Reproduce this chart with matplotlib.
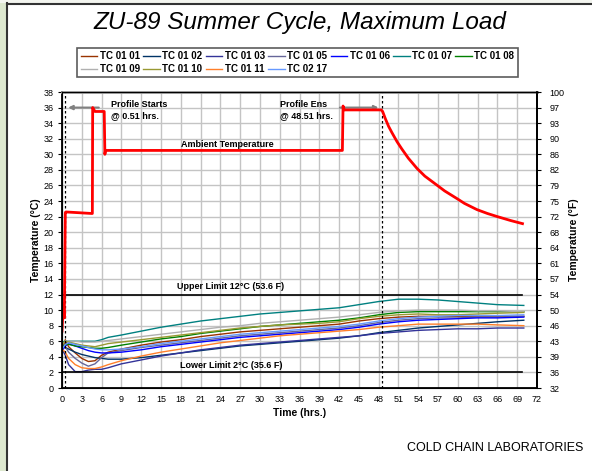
import numpy as np
import matplotlib
matplotlib.use('Agg')
import matplotlib.pyplot as plt
from matplotlib.patches import Rectangle
from matplotlib.lines import Line2D

plt.rcParams['font.family'] = ['Liberation Sans', 'DejaVu Sans']

# Probe readings (deg C) at these hours
hours = [0, 0.5, 1, 2, 3, 4, 5, 6, 7, 9, 12, 15, 18, 21, 24, 27, 30, 33,
         36, 39, 42, 45, 48, 51, 54, 57, 60, 63, 66, 70]

tc_01_01 = [4.8, 6.2, 5.3, 4.5, 3.8, 3.4, 3.5, 4.2, 4.6, 5.0, 5.5, 5.9, 6.2, 6.6, 6.9, 7.2, 7.4, 7.6,
            7.8, 8.0, 8.2, 8.6, 8.9, 9.1, 9.2, 9.2, 9.2, 9.2, 9.2, 9.2]
tc_01_02 = [5.3, 5.2, 5.0, 4.6, 4.3, 4.1, 3.9, 3.8, 3.7, 3.7, 3.9, 4.2, 4.5, 4.8, 5.1, 5.4, 5.6, 5.8,
            6.0, 6.2, 6.4, 6.7, 7.1, 7.4, 7.7, 7.9, 8.1, 8.3, 8.5, 8.7]
tc_01_03 = [5.0, 4.2, 3.0, 2.1, 2.1, 2.3, 2.4, 2.4, 2.6, 3.1, 3.6, 4.1, 4.5, 4.9, 5.2, 5.5, 5.7, 5.9,
            6.1, 6.3, 6.5, 6.7, 7.0, 7.2, 7.4, 7.5, 7.6, 7.6, 7.7, 7.7]
tc_01_05 = [5.5, 5.3, 4.6, 3.8, 3.2, 2.8, 3.1, 3.9, 4.5, 4.8, 5.2, 5.5, 5.8, 6.1, 6.4, 6.7, 6.9, 7.1,
            7.3, 7.5, 7.7, 8.0, 8.4, 8.7, 8.9, 9.0, 9.0, 9.1, 9.1, 9.2]
tc_01_06 = [4.7, 5.4, 5.7, 5.4, 5.1, 4.8, 4.6, 4.5, 4.5, 4.6, 4.9, 5.3, 5.6, 5.9, 6.2, 6.5, 6.7, 6.9,
            7.1, 7.3, 7.5, 7.8, 8.2, 8.5, 8.7, 8.8, 8.9, 9.0, 9.0, 9.1]
tc_01_07 = [5.9, 6.0, 6.0, 6.0, 6.0, 6.0, 6.0, 6.2, 6.5, 6.8, 7.3, 7.8, 8.2, 8.6, 8.9, 9.2, 9.5, 9.7,
            9.9, 10.1, 10.3, 10.7, 11.1, 11.4, 11.4, 11.3, 11.1, 10.9, 10.7, 10.6]
tc_01_08 = [5.3, 5.6, 5.6, 5.4, 5.3, 5.2, 5.1, 5.1, 5.2, 5.5, 5.9, 6.3, 6.6, 7.0, 7.3, 7.6, 7.9, 8.1,
            8.3, 8.5, 8.7, 9.0, 9.4, 9.7, 9.8, 9.8, 9.8, 9.8, 9.8, 9.8]
tc_01_09 = [5.6, 6.0, 6.0, 6.0, 5.9, 5.9, 5.9, 6.0, 6.1, 6.3, 6.6, 6.9, 7.2, 7.5, 7.8, 8.0, 8.3, 8.5,
            8.7, 8.9, 9.1, 9.4, 9.7, 9.9, 10.0, 10.0, 10.0, 9.9, 9.9, 9.8]
tc_01_10 = [5.6, 6.0, 5.9, 5.7, 5.5, 5.4, 5.3, 5.5, 5.7, 5.9, 6.2, 6.5, 6.8, 7.1, 7.4, 7.7, 7.9, 8.1,
            8.2, 8.3, 8.5, 8.9, 9.2, 9.4, 9.5, 9.4, 9.4, 9.5, 9.6, 9.7]
tc_01_11 = [5.0, 4.6, 3.8, 3.0, 2.6, 2.5, 2.5, 2.7, 3.0, 3.5, 4.1, 4.6, 5.0, 5.4, 5.8, 6.1, 6.4, 6.7,
            6.9, 7.1, 7.3, 7.5, 7.8, 8.0, 8.2, 8.2, 8.2, 8.2, 8.1, 8.0]
tc_02_17 = [5.0, 5.6, 5.8, 5.6, 5.4, 5.2, 5.0, 4.9, 4.9, 5.0, 5.3, 5.7, 6.0, 6.3, 6.6, 6.9, 7.1, 7.3,
            7.5, 7.7, 7.9, 8.2, 8.6, 8.9, 9.1, 9.2, 9.3, 9.3, 9.3, 9.4]

# Ambient temperature profile
amb_hours = [0, 0.2, 0.35, 0.5, 0.6, 4.6, 4.65, 5.0, 6.4, 6.5, 6.6, 7, 42.5, 42.6, 42.8,
             48.4, 48.6, 49.0, 49.5, 50.0, 50.8, 51.5, 52.5, 53.8, 55.0, 56.9, 58.0,
             59.9, 61.0, 62.9, 64.5, 66.0, 68.0, 69.8]
amb_temp = [7.3, 10.8, 9.0, 22.5, 22.6, 22.4, 36.0, 35.5, 35.5, 30.0, 30.5, 30.5, 30.5, 36.2, 35.7,
            35.7, 35.5, 34.6, 33.6, 32.8, 31.6, 30.7, 29.5, 28.2, 27.2, 26.0, 25.3,
            24.3, 23.7, 22.9, 22.4, 22.0, 21.5, 21.1]

series = [
    ('TC 01 01', tc_01_01, '#993300'),
    ('TC 01 02', tc_01_02, '#003366'),
    ('TC 01 03', tc_01_03, '#333399'),
    ('TC 01 05', tc_01_05, '#666699'),
    ('TC 01 06', tc_01_06, '#0000ff'),
    ('TC 01 07', tc_01_07, '#008080'),
    ('TC 01 08', tc_01_08, '#008000'),
    ('TC 01 09', tc_01_09, '#b0b0b0'),
    ('TC 01 10', tc_01_10, '#999933'),
    ('TC 01 11', tc_01_11, '#ff7f2a'),
    ('TC 02 17', tc_02_17, '#6699ff'),
]

c_ticks = list(range(0, 40, 2))
f_labels = [str(int(round(c * 1.8 + 32))) for c in c_ticks]

fig = plt.figure(figsize=(5.92, 4.71), dpi=100)

# page frame
fig.patches.append(Rectangle((0, 0), 6 / 592, 1, transform=fig.transFigure,
                             facecolor='#dde8cf', edgecolor='none', zorder=-5))
fig.patches.append(Rectangle((0, 1 - 3 / 471), 1, 3 / 471, transform=fig.transFigure,
                             facecolor='#f3f5ef', edgecolor='none', zorder=-5))
fig.lines.append(Line2D([6.5 / 592, 6.5 / 592], [0, 1 - 3 / 471], transform=fig.transFigure,
                        color='#333333', lw=1.5))
fig.lines.append(Line2D([6.5 / 592, 1], [1 - 3.5 / 471, 1 - 3.5 / 471], transform=fig.transFigure,
                        color='#333333', lw=1.5))

ax = fig.add_axes([62 / 592, 1 - 388 / 471, 475 / 592, 296 / 471])

handles = {}
for name, vals, col in series:
    h, = ax.plot(hours, vals, color=col, lw=1.0, label=name)
    handles[name] = h

ax.plot(amb_hours, amb_temp, color='#ff0000', lw=2.0, zorder=5)

# limit lines
ax.plot([0, 69.8], [12, 12], color='black', lw=1.2)
ax.plot([0, 69.8], [2, 2], color='black', lw=1.2)
ax.axvline(0.51, color='black', lw=0.9, ls=(0, (2, 2)))
ax.axvline(48.51, color='black', lw=0.9, ls=(0, (2, 2)))

ax.annotate('', xy=(0.51, 36), xytext=(6.0, 36),
            arrowprops=dict(arrowstyle='-|>', color='#808080', lw=1.5, mutation_scale=6))
ax.annotate('', xy=(48.4, 36), xytext=(41.7, 36),
            arrowprops=dict(arrowstyle='-|>', color='#808080', lw=1.5, mutation_scale=6))

tkw = dict(fontsize=6.5, fontweight='bold', va='center')
ax.text(7.4, 36.4, 'Profile Starts', ha='left', **tkw)
ax.text(7.4, 35.0, '@ 0.51 hrs.', ha='left', **tkw)
ax.text(33.1, 36.4, 'Profile Ens', ha='left', **tkw)
ax.text(33.1, 35.0, '@ 48.51 hrs.', ha='left', **tkw)
ax.text(25, 31.3, 'Ambient Temperature', ha='center', **tkw)
ax.text(25.5, 13.0, 'Upper Limit 12°C (53.6 F)', ha='center', **tkw)
ax.text(25.7, 2.9, 'Lower Limit 2°C (35.6 F)', ha='center', **tkw)

ax.set_xlim(0, 72)
ax.set_ylim(0, 38)
ax.set_xticks(range(0, 73, 3))
ax.set_yticks(c_ticks)
ax.grid(True, color='#c4c4c4', lw=1.0)
ax.set_axisbelow(True)
ax.tick_params(axis='both', labelsize=6.5, length=0, pad=5)
ax.tick_params(axis='y', length=3, direction='out', pad=3)
for s in ['left', 'bottom', 'right']:
    ax.spines[s].set_linewidth(1.3)
ax.spines['top'].set_color('#999999')
ax.spines['top'].set_linewidth(2)
ax.set_xlabel('Time (hrs.)', fontsize=7.5, fontweight='bold', labelpad=3)
ax.set_ylabel('Temperature (°C)', fontsize=7.5, fontweight='bold', labelpad=2)

ax2 = ax.twinx()
ax2.set_ylim(0, 38)
ax2.set_yticks(c_ticks)
ax2.set_yticklabels(f_labels)
ax2.tick_params(axis='y', labelsize=6.5, length=3, pad=6)
ax2.spines['right'].set_linewidth(1.3)
ax2.set_ylabel('Temperature (°F)', fontsize=7.5, fontweight='bold', labelpad=3)

# legend filled column-wise so rows read 01..08 / 09..17
order = ['TC 01 01', 'TC 01 09', 'TC 01 02', 'TC 01 10', 'TC 01 03', 'TC 01 11',
         'TC 01 05', 'TC 02 17', 'TC 01 06', 'TC 01 07', 'TC 01 08']
leg = fig.legend([handles[n] for n in order], order, ncol=7,
                 loc='center', bbox_to_anchor=(297.5 / 592, 1 - 62.5 / 471),
                 prop=dict(size=7, weight='bold'), frameon=True, fancybox=False,
                 handlelength=1.7, handletextpad=0.25, columnspacing=0.35,
                 labelspacing=0.3, borderpad=0.35, borderaxespad=0)
leg.get_frame().set_edgecolor('#333333')
leg.get_frame().set_linewidth(1.2)

fig.text(300 / 592, 1 - 22 / 471, 'ZU-89 Summer Cycle, Maximum Load', ha='center', va='center',
         fontsize=17.5, style='italic')
fig.text(583 / 592, 1 - 448 / 471, 'COLD CHAIN LABORATORIES', ha='right', va='center',
         fontsize=9)

fig.savefig('out.png', dpi=100)
